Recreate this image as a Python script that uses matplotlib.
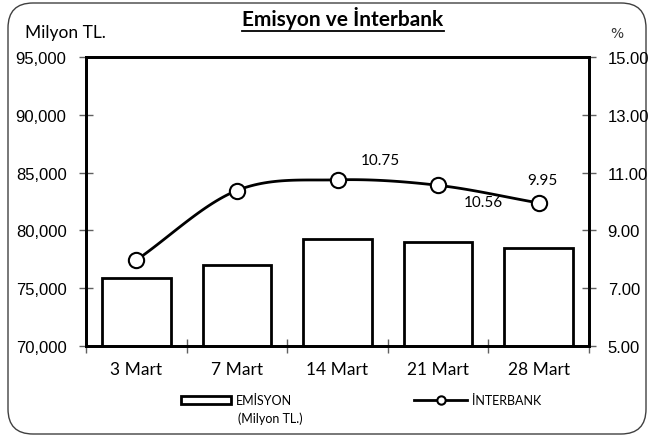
import numpy as np
import matplotlib.pyplot as plt
from matplotlib.patches import FancyBboxPatch, Rectangle
from matplotlib.lines import Line2D

plt.rcParams['font.family'] = ['Lato', 'DejaVu Sans']

categories = ['3 Mart', '7 Mart', '14 Mart', '21 Mart', '28 Mart']
emisyon = [75860, 77020, 79290, 79030, 78520]
interbank = [7.97, 10.38, 10.75, 10.56, 9.95]
label_idx = [2, 3, 4]
label_text = ['10.75', '10.56', '9.95']
label_offset = [(43, 20), (45, -17), (4, 23)]  # pixels

W, H = 653, 439
fig = plt.figure(figsize=(W / 100, H / 100), dpi=100)

# rounded chart border
fig.add_artist(FancyBboxPatch((0.08, 0.04), 6.38, 4.31, boxstyle='round,pad=0,rounding_size=0.25',
                              transform=fig.dpi_scale_trans, facecolor='white',
                              edgecolor='#404040', linewidth=1.0, zorder=0))

ax = fig.add_axes([86 / W, 1 - 347 / H, (589 - 86) / W, (347 - 58) / H])
ax.patch.set_alpha(0)
x = np.arange(len(categories))

ax.bar(x, emisyon, width=0.68, facecolor='white', edgecolor='black', linewidth=2.0, zorder=2)
ax.set_xlim(-0.5, len(categories) - 0.5)
ax.set_ylim(70000, 95000)
ax.set_yticks(np.arange(70000, 95001, 5000))
ax.yaxis.set_major_formatter(plt.FuncFormatter(lambda v, p: f'{int(v):,}'))
ax.set_xticks(np.arange(-0.5, len(categories)), labels=[''] * (len(categories) + 1))
ax.set_xticks(x, labels=categories, minor=True)
ax.tick_params(axis='both', which='major', direction='inout', length=10, width=1, color='#606060',
               labelsize=12)
ax.tick_params(axis='x', which='minor', length=0, labelsize=12.5, pad=11)
ax.tick_params(axis='y', pad=9)
for s in ax.spines.values():
    s.set_linewidth(2.0)

ax2 = ax.twinx()
ax2.set_ylim(5, 15)
ax2.set_yticks(np.arange(5, 15.01, 2))
ax2.yaxis.set_major_formatter(plt.FuncFormatter(lambda v, p: f'{v:.2f}'))
ax2.tick_params(axis='y', direction='inout', length=10, width=1, color='#606060', labelsize=12, pad=8.5)
for s in ax2.spines.values():
    s.set_linewidth(2.0)
for lab in ax.get_yticklabels() + ax2.get_yticklabels():
    lab.set_family('Liberation Sans')

# smoothed line (Catmull-Rom through the points)
px = np.concatenate([[x[0] - (x[1] - x[0])], x, [x[-1] + (x[-1] - x[-2])]]).astype(float)
py = np.concatenate([[2 * interbank[0] - interbank[1]], interbank, [2 * interbank[-1] - interbank[-2]]])
sx, sy = [], []
t = np.linspace(0, 1, 30)
for i in range(1, len(px) - 2):
    for arr, out in ((px, sx), (py, sy)):
        p0, p1, p2, p3 = arr[i - 1], arr[i], arr[i + 1], arr[i + 2]
        out.extend(0.5 * (2 * p1 + (-p0 + p2) * t + (2 * p0 - 5 * p1 + 4 * p2 - p3) * t ** 2
                          + (-p0 + 3 * p1 - 3 * p2 + p3) * t ** 3))
ax2.plot(sx, sy, color='black', linewidth=2.0, zorder=3)
ax2.plot(x, interbank, linestyle='none', marker='o', markersize=11, markerfacecolor='white',
         markeredgecolor='black', markeredgewidth=1.5, zorder=4)

for i, txt, (dx, dy) in zip(label_idx, label_text, label_offset):
    ax2.annotate(txt, (x[i], interbank[i]), xytext=(dx * 0.72, dy * 0.72), textcoords='offset points',
                 ha='center', va='center', fontsize=11)

# axis units
fig.text(25 / W, 1 - 33 / H, 'Milyon TL.', fontsize=12.5, va='center', ha='left')
fig.text(617 / W, 1 - 33 / H, r'$\%$', fontsize=10, va='center', ha='center', color='#333333')

# title with underline
title = fig.text(343 / W, 1 - 18 / H, 'Emisyon ve İnterbank', fontsize=15, fontweight='bold',
                 ha='center', va='center')
fig.canvas.draw()
bb = title.get_window_extent()
fig.add_artist(Line2D([bb.x0 / W, bb.x1 / W], [(bb.y0 - 2) / H, (bb.y0 - 2) / H], color='black',
                      linewidth=1.3))

# legend
fig.add_artist(Rectangle((181 / W, 1 - 405 / H), 50 / W, 8 / H, facecolor='white', edgecolor='black',
                         linewidth=2.0))
fig.text(236 / W, 1 - 401 / H, 'EMİSYON', fontsize=9, va='center', ha='left')
fig.text(238 / W, 1 - 419 / H, '(Milyon TL.)', fontsize=9, va='center', ha='left')
fig.add_artist(Line2D([414 / W, 467 / W], [1 - 401 / H, 1 - 401 / H], color='black', linewidth=2.0))
fig.add_artist(Line2D([441 / W], [1 - 401 / H], marker='o', markersize=6, markerfacecolor='white',
                      markeredgecolor='black', markeredgewidth=1.5))
fig.text(472 / W, 1 - 401 / H, 'İNTERBANK', fontsize=9, va='center', ha='left')

fig.savefig('out.png', dpi=100)
